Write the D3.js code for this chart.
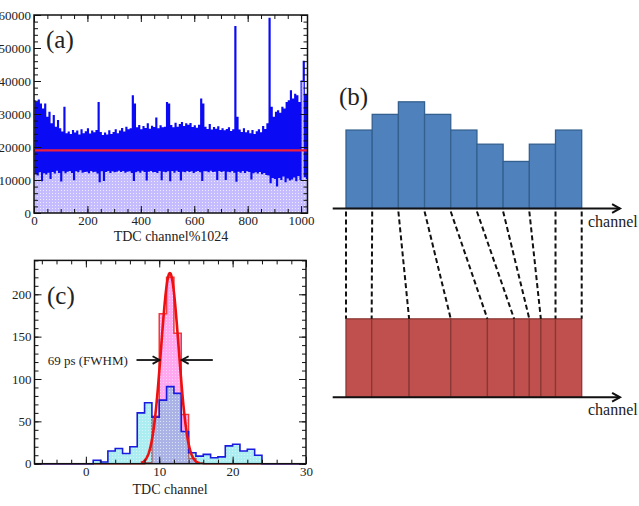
<!DOCTYPE html>
<html>
<head>
<meta charset="utf-8">
<script src="https://cdn.jsdelivr.net/npm/d3@7"></script>
<style>
body { margin: 0; background: #fff; }
svg { display: block; }
text { font-family: "Liberation Serif", "Times New Roman", serif; fill: #222; }
</style>
</head>
<body>
<script>
// ---- panel (a): counts per 4 TDC channels (channel % 1024)
var countsA = [
  34000,12000,33500,11500,34200,12500,33000,9800,31500,12200,33000,11800,29000,12400,30500,10500,
  27000,12600,29500,12100,26000,13000,28000,12300,25500,9700,24500,12800,32000,12200,24000,12700,
  24500,12900,23800,12300,25000,10100,24200,12800,24800,12500,23600,13100,25200,12400,24000,12600,
  24600,12700,25500,12200,23900,12900,24800,12500,24300,12700,25000,12100,33500,9500,24400,12800,
  23500,9900,24200,12600,23600,12900,24900,12300,23800,12800,24400,12500,25200,12700,24000,13000,
  24800,12600,25600,12900,24500,12400,26000,12700,25200,12800,25500,12300,35500,9900,33000,12500,
  25800,12800,26500,12400,25200,13000,26200,12600,25600,10000,27000,12700,25400,12900,26300,12500,
  25900,12600,28800,12300,25500,12900,26400,10100,25800,12700,26000,12500,33500,12800,33000,9800,
  26500,12900,25800,12400,27200,13000,26000,12600,26800,10000,27400,12700,26200,12500,27000,12900,
  26600,12600,27100,12800,25900,12300,26400,12700,25700,12900,26600,12500,34500,9900,33000,12800,
  26000,12800,25300,12500,26800,13000,25100,12600,25900,12700,25400,10200,26100,12900,25000,12600,
  25500,12800,24900,10200,25300,12700,25800,12500,24700,12900,25200,12400,56500,9600,29000,12700,
  25100,12400,24400,12900,25500,12300,24300,12800,24900,12600,24000,10300,25000,12200,23800,12500,
  24600,12100,25200,12600,24300,11900,26200,12300,25300,11700,27000,11500,59000,9200,32000,10800,
  29000,10500,30500,8200,31000,10800,30200,10200,32000,11200,31500,9500,33500,10600,34000,10000,
  37000,10300,34500,10900,36000,9800,35500,11400,33500,10200,40000,40000,46000,11000,36000,10500
];
var binWidthA = 4;
var meanA = 19000;
var xTicksA = [0, 200, 400, 600, 800, 1000];
var yTicksA = [0, 10000, 20000, 30000, 40000, 50000, 60000];

// ---- panel (c): TDC channel histograms
var blueStart = 1;
var blueCounts = [4, 2, 15, 18, 12, 20, 60, 72, 55, 75, 91, 83, 38, 13, 9, 11, 7, 8, 21, 23, 15, 17, 10];
var redStart = 8;
var redCounts = [1, 56, 177, 220, 154, 58, 6, 1];
var fitAmp = 225, fitMean = 11.45, fitSigma = 1.2;
var fitRange = [7.5, 15.5];
var xTicksC = [0, 10, 20, 30];
var yTicksC = [0, 50, 100, 150, 200];

// ---- panel (b): schematic bins
var blueBars = [25, 30, 34, 30, 25, 20.5, 15, 20.5, 25];
var redEdges = [0, 0.98, 2.41, 4.0, 5.4, 6.42, 7.0, 7.44, 8.0, 9.0];
var redLevel = 25;

var svg = d3.select("body").append("svg").attr("width", 639).attr("height", 506);
var defs = svg.append("defs");

function dots(id, bg, dot) {
  var p = defs.append("pattern").attr("id", id).attr("patternUnits", "userSpaceOnUse")
    .attr("width", 3).attr("height", 3);
  p.append("rect").attr("width", 3).attr("height", 3).attr("fill", bg);
  p.append("rect").attr("x", 1).attr("y", 1).attr("width", 1).attr("height", 1).attr("fill", dot);
}
dots("dotA", "#c4bcff", "rgba(255,255,255,0.7)");
dots("dotBlue", "rgba(0,200,210,0.33)", "rgba(255,255,255,0.5)");
dots("dotRed", "rgba(255,60,220,0.45)", "rgba(255,255,255,0.5)");

// frame with inward ticks on all sides
function frame(g, x, y, xMaj, xMin, yMaj, yMin, fmt) {
  var x0 = x.range()[0], x1 = x.range()[1], y0 = y.range()[0], y1 = y.range()[1];
  function ax(gen, tr, vals, size, labels) {
    var a = g.append("g").attr("transform", tr)
      .call(gen.tickValues(vals).tickSize(-size).tickPadding(3).tickFormat(labels ? fmt : ""));
    a.select(".domain").remove();
    a.selectAll("line").attr("stroke", "#111").attr("stroke-width", 1);
    a.selectAll("text").attr("font-size", 13).attr("fill", "#222");
  }
  ax(d3.axisBottom(x), "translate(0," + y0 + ")", xMin, 4, false);
  ax(d3.axisBottom(x), "translate(0," + y0 + ")", xMaj, 7, true);
  ax(d3.axisTop(x), "translate(0," + y1 + ")", xMin, 4, false);
  ax(d3.axisTop(x), "translate(0," + y1 + ")", xMaj, 7, false);
  ax(d3.axisLeft(y), "translate(" + x0 + ",0)", yMin, 4, false);
  ax(d3.axisLeft(y), "translate(" + x0 + ",0)", yMaj, 7, true);
  ax(d3.axisRight(y), "translate(" + x1 + ",0)", yMin, 4, false);
  ax(d3.axisRight(y), "translate(" + x1 + ",0)", yMaj, 7, false);
  g.append("rect").attr("x", x0).attr("y", y1).attr("width", x1 - x0).attr("height", y0 - y1)
    .attr("fill", "none").attr("stroke", "#111").attr("stroke-width", 1.5);
}

// ================= (a)
var xA = d3.scaleLinear().domain([0, 1024]).range([34, 307.5]);
var yA = d3.scaleLinear().domain([0, 60000]).range([213, 15]);
var gA = svg.append("g");
var ptsA = countsA.map(function(v, i) { return [i * binWidthA, v]; });
ptsA.push([1024, countsA[countsA.length - 1]]);
gA.append("path").datum(ptsA)
  .attr("d", d3.area().curve(d3.curveStepAfter).x(function(d) { return xA(d[0]); })
    .y0(yA(0)).y1(function(d) { return yA(d[1]); }))
  .attr("fill", "url(#dotA)");
gA.append("path").datum(ptsA)
  .attr("d", d3.line().curve(d3.curveStepAfter).x(function(d) { return xA(d[0]); })
    .y(function(d) { return yA(d[1]); }))
  .attr("fill", "none").attr("stroke", "#0a0af5").attr("stroke-width", 1.1);
gA.append("line").attr("x1", xA(0)).attr("x2", xA(1024)).attr("y1", yA(meanA)).attr("y2", yA(meanA))
  .attr("stroke", "#f0203c").attr("stroke-width", 2.2);
frame(gA, xA, yA, xTicksA, d3.range(0, 1025, 50), yTicksA, d3.range(0, 60001, 2000), d3.format("d"));
gA.append("text").attr("x", 171).attr("y", 241).attr("text-anchor", "middle").attr("font-size", 14)
  .text("TDC channel%1024");
gA.append("text").attr("x", 46).attr("y", 48).attr("font-size", 25).text("(a)");

// ================= (c)
var xC = d3.scaleLinear().domain([-7, 30]).range([34.5, 306]);
var yC = d3.scaleLinear().domain([0, 240]).range([463.7, 260.4]);
var gC = svg.append("g");
function histPts(start, counts) {
  var pts = [[-7, 0]];
  counts.forEach(function(v, i) { pts.push([start + i, v]); });
  pts.push([start + counts.length, 0]);
  pts.push([30, 0]);
  return pts;
}
var redPts = histPts(redStart, redCounts);
var bluePts = histPts(blueStart, blueCounts);
var areaC = d3.area().curve(d3.curveStepAfter).x(function(d) { return xC(d[0]); })
  .y0(yC(0)).y1(function(d) { return yC(d[1]); });
var lineC = d3.line().curve(d3.curveStepAfter).x(function(d) { return xC(d[0]); })
  .y(function(d) { return yC(d[1]); });
gC.append("path").datum(redPts).attr("d", areaC).attr("fill", "url(#dotRed)");
gC.append("path").datum(redPts).attr("d", lineC).attr("fill", "none").attr("stroke", "#f03a3a").attr("stroke-width", 1.5);
gC.append("path").datum(bluePts).attr("d", areaC).attr("fill", "url(#dotBlue)");
gC.append("path").datum(bluePts).attr("d", lineC).attr("fill", "none").attr("stroke", "#1a1ae0").attr("stroke-width", 1.6);
var fitPts = d3.range(fitRange[0], fitRange[1] + 0.001, 0.05).map(function(t) {
  return [t, fitAmp * Math.exp(-0.5 * Math.pow((t - fitMean) / fitSigma, 2))];
});
gC.append("path").datum(fitPts)
  .attr("d", d3.line().x(function(d) { return xC(d[0]); }).y(function(d) { return yC(d[1]); }))
  .attr("fill", "none").attr("stroke", "#ee1010").attr("stroke-width", 2.6);
frame(gC, xC, yC, xTicksC, d3.range(-6, 31, 2), yTicksC, d3.range(0, 241, 10), d3.format("d"));
gC.append("text").attr("x", 170).attr("y", 494).attr("text-anchor", "middle").attr("font-size", 14)
  .text("TDC channel");
gC.append("text").attr("x", 47).attr("y", 304).attr("font-size", 25).text("(c)");
gC.append("text").attr("x", xC(-5.2)).attr("y", yC(117)).attr("font-size", 13).text("69 ps (FWHM)");

function arrow(g, xa, ya, xb, yb, head, w) {
  var ang = Math.atan2(yb - ya, xb - xa);
  g.append("line").attr("x1", xa).attr("y1", ya).attr("x2", xb).attr("y2", yb)
    .attr("stroke", "#111").attr("stroke-width", w);
  var pts = [[xb - head * Math.cos(ang - 0.5), yb - head * Math.sin(ang - 0.5)], [xb, yb],
             [xb - head * Math.cos(ang + 0.5), yb - head * Math.sin(ang + 0.5)]];
  g.append("path").attr("d", d3.line()(pts)).attr("fill", "none").attr("stroke", "#111")
    .attr("stroke-width", w);
}
var fwhmY = yC(122.4);
arrow(gC, xC(6.9), fwhmY, xC(10.05), fwhmY, 8, 1.8);
arrow(gC, xC(17.3), fwhmY, xC(13.05), fwhmY, 8, 1.8);

// ================= (b)
var gB = svg.append("g");
var xB = d3.scaleLinear().domain([0, 9]).range([346, 581.7]);
var yTop = d3.scaleLinear().domain([0, 40]).range([208.5, 83]);
var yBot = d3.scaleLinear().domain([0, 40]).range([397.3, 271.8]);

gB.selectAll("rect.blue").data(blueBars).enter().append("rect").attr("class", "blue")
  .attr("x", function(d, i) { return xB(i); }).attr("width", xB(1) - xB(0))
  .attr("y", function(d) { return yTop(d); }).attr("height", function(d) { return yTop(0) - yTop(d); })
  .attr("fill", "#4f81bd").attr("stroke", "#34608f").attr("stroke-width", 1.3);

gB.selectAll("rect.red").data(d3.pairs(redEdges)).enter().append("rect").attr("class", "red")
  .attr("x", function(d) { return xB(d[0]); }).attr("width", function(d) { return xB(d[1]) - xB(d[0]); })
  .attr("y", yBot(redLevel)).attr("height", yBot(0) - yBot(redLevel))
  .attr("fill", "#c0504d").attr("stroke", "#8a3836").attr("stroke-width", 1.3);

gB.selectAll("line.map").data(redEdges).enter().append("line").attr("class", "map")
  .attr("x1", function(d, i) { return xB(i); }).attr("y1", yTop(0) + 3)
  .attr("x2", function(d) { return xB(d); }).attr("y2", yBot(redLevel))
  .attr("stroke", "#111").attr("stroke-width", 2).attr("stroke-dasharray", "5,3");

arrow(gB, 332.7, yTop(0), 620, yTop(0), 9, 2);
arrow(gB, 332.7, yBot(0), 620, yBot(0), 9, 2);
gB.append("text").attr("x", 588).attr("y", 226.5).attr("font-size", 16).text("channel");
gB.append("text").attr("x", 588).attr("y", 415).attr("font-size", 16).text("channel");
gB.append("text").attr("x", 339).attr("y", 105).attr("font-size", 25).text("(b)");
</script>
</body>
</html>
